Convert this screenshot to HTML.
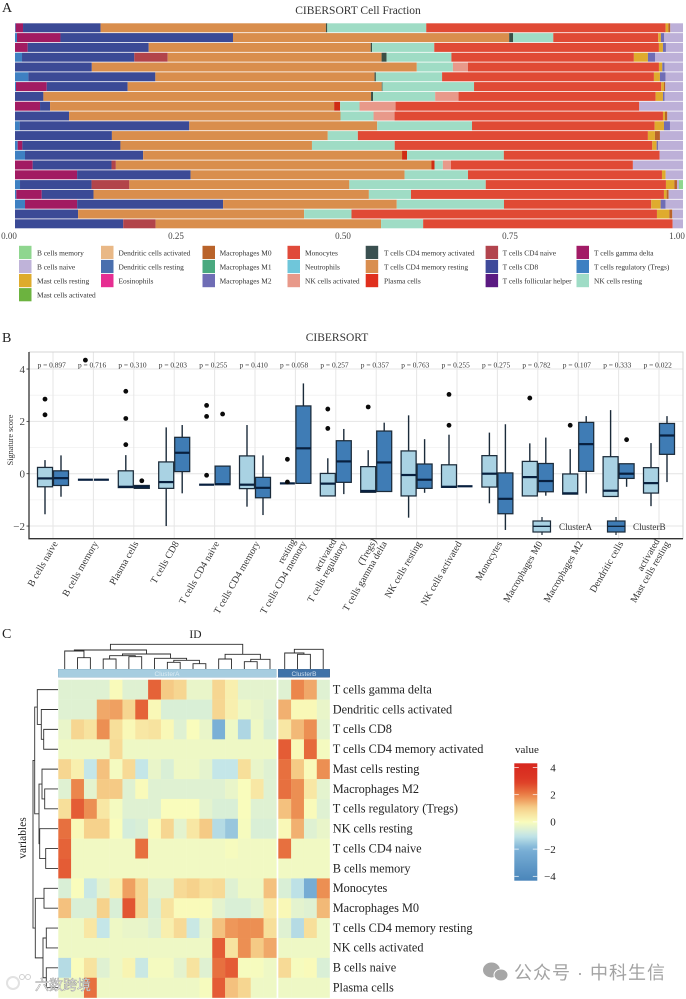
<!DOCTYPE html>
<html lang="en">
<head>
<meta charset="utf-8">
<title>CIBERSORT composite figure</title>
<style>
html,body{margin:0;padding:0;background:#fff;}
svg{display:block;font-family:"Liberation Serif","Noto Serif CJK SC",serif;}
</style>
</head>
<body>
<svg id="fig" xmlns="http://www.w3.org/2000/svg" width="686" height="999" viewBox="0 0 686 999">
  <defs>
    <linearGradient id="cbar" x1="0" y1="0" x2="0" y2="1"></linearGradient>
  </defs>
  <rect x="0" y="0" width="686" height="999" fill="#fff"/>
  <text x="2" y="12" font-size="14" fill="#222">A</text>
  <text x="358" y="14" font-size="11.5" text-anchor="middle" fill="#333">CIBERSORT Cell Fraction</text>
  <g id="stack"></g>
  <g id="stackTicks"></g>
  <g id="legendA"></g>

  <text x="2" y="342" font-size="14" fill="#222">B</text>
  <text x="337" y="341" font-size="11.5" text-anchor="middle" fill="#333">CIBERSORT</text>
  <g id="box"></g>
  <text transform="translate(13,440) rotate(-90)" font-size="8.2" text-anchor="middle" fill="#333">Signature score</text>
  <g>
    <line x1="542" x2="542" y1="517" y2="535" stroke="#1b2b3a" stroke-width="1.2"/>
    <rect x="533" y="521" width="17.5" height="11" fill="#a9d2e3" stroke="#1b2b3a" stroke-width="1.2"/>
    <line x1="533" x2="550.5" y1="526.3" y2="526.3" stroke="#0e2238" stroke-width="1.4"/>
    <text x="559" y="530" font-size="9.2" fill="#333">ClusterA</text>
    <line x1="616" x2="616" y1="517" y2="535" stroke="#1b2b3a" stroke-width="1.2"/>
    <rect x="607.5" y="521" width="17.5" height="11" fill="#3f7cb5" stroke="#1b2b3a" stroke-width="1.2"/>
    <line x1="607.5" x2="625" y1="526.3" y2="526.3" stroke="#0e2238" stroke-width="1.4"/>
    <text x="633" y="530" font-size="9.2" fill="#333">ClusterB</text>
  </g>

  <text x="2" y="638" font-size="14" fill="#222">C</text>
  <text x="195.5" y="638" font-size="11.5" text-anchor="middle" fill="#222">ID</text>
  <text transform="translate(26,838) rotate(-90)" font-size="11.5" text-anchor="middle" fill="#222">variables</text>
  <g id="dendroTop" fill="none" stroke="#2a2a2a" stroke-width="0.9"></g>
  <g id="dendroLeft" fill="none" stroke="#333" stroke-width="0.9"></g>
  <rect x="58.3" y="669.3" width="218" height="8" fill="#a6cde0" stroke="#7fa9c0" stroke-width="0.4"/>
  <text x="167" y="676" font-size="6.5" text-anchor="middle" fill="#dcecf4" font-family="Liberation Sans, sans-serif">ClusterA</text>
  <rect x="278.3" y="669.3" width="51.4" height="8" fill="#3f72a8" stroke="#2d5580" stroke-width="0.4"/>
  <text x="304" y="676" font-size="6.5" text-anchor="middle" fill="#cfe0f0" font-family="Liberation Sans, sans-serif">ClusterB</text>
  <g id="heat"></g>
  <g id="heatLabels"></g>

  <text x="515" y="753" font-size="11" fill="#222">value</text>
  <rect x="514.3" y="763.3" width="23" height="117.4" fill="url(#cbar)"/>
  <g id="cbarTicks"></g>

  <g>
    <circle cx="13" cy="983" r="6" fill="none" stroke="#e2e2e2" stroke-width="2"/>
    <circle cx="22" cy="977" r="2.5" fill="none" stroke="#d0d0d0" stroke-width="1"/>
    <circle cx="28" cy="977" r="2.5" fill="none" stroke="#d0d0d0" stroke-width="1"/>
    <text x="35" y="990" font-size="14" fill="#fff" stroke="#9a9a9a" stroke-width="0.5" font-family="Liberation Sans, Noto Sans CJK SC, sans-serif">六数跨境</text>
  </g>
  <g>
    <ellipse cx="491.5" cy="970" rx="8.5" ry="7.5" fill="#a6a6a6"/>
    <ellipse cx="501" cy="975" rx="7" ry="6" fill="#a6a6a6" stroke="#fff" stroke-width="1"/>
    <text x="514" y="979" font-size="18" letter-spacing="1" fill="#a3a3a3" font-family="Liberation Sans, Noto Sans CJK SC, sans-serif" xml:space="preserve">公众号 · 中科生信</text>
  </g>
</svg>
<script>
/* ---------- Panel A data: fractions (percent) per sample row ---------- */
const tregs     = [.1,.3,0,1.05,0,2,.15,0,0,0,.7,0,.4,1.5,0,0,.75,.2,1.5,0,0];
const gammaDelta= [1.1,6.5,1.9,0,0,0,4.6,0,3.75,0,0,0,.7,0,2.65,9.3,0,3.8,7.8,0,0];
const cd8       = [11.6,25.8,18.1,16.8,11.5,19,12.1,4.25,1.5,8.1,25.4,14.5,14.7,17.7,11.8,17,10.7,7.75,21.85,9.45,16.2];
const cd4Naive  = [0,0,0,5,0,0,0,0,0,0,0,0,0,0,.65,0,5.65,0,0,0,4.85];
const cd4Resting= [33.7,41.3,33.2,32,48.65,32.8,38,49.05,42.55,40.65,28.15,32.3,28.7,38.8,47.25,32.05,32.9,41.2,26,33.85,33.75];
const plasma    = [0,0,0,0,0,0,0,0,.9,0,0,0,0,.75,.45,0,0,0,0,0,0];
const cd4Active = [.2,.6,.2,.75,0,.2,.1,.3,0,0,0,0,0,0,0,0,0,0,0,0,0];
const nkResting = [14.8,6,9.3,9.7,5.4,9.9,13.7,9.3,2.9,4.95,14.2,4.5,12.4,14.5,1.25,9.5,20.4,6.3,16.05,7.1,6.3];
const nkActive  = [0,0,0,0,2.25,0,0,3.5,5.4,3.15,0,0,0,0,1.2,0,0,0,0,0,0];
const monocytes = [35.8,15.7,33.6,27.3,28.6,31.7,28,29.5,36.5,40.2,27.35,43.4,38.6,23.35,27.25,29.05,26.95,37.85,22.05,45.75,37.35];
const mastRest  = [.4,.4,.6,2.1,.5,.9,.4,1.1,0,.3,1.4,1.05,.65,0,0,.55,1.25,.4,1.4,1.85,0];
const macroM0   = [.3,0,0,0,0,0,.2,0,0,.35,0,.75,0,0,0,0,.4,.3,0,.45,0];
const macroM2   = [0,.5,.45,1.1,.35,.85,0,.25,0,0,.9,0,.2,0,0,0,0,0,.75,0,0];
const bNaive    = [1.9,2.8,2.55,4.15,2.75,2.6,2.65,2.75,6.55,2.35,1.95,3.45,3.75,3.5,7.5,2.6,.3,2.15,2.6,1.6,1.55];
const bMemory   = [0,0,0,0,0,0,0,0,0,0,0,0,0,0,0,0,.6,0,0,0,0];
const stackTickValues = [0,.25,.5,.75,1];
const stackTickLabels = ["0.00","0.25","0.50","0.75","1.00"];
const legendNames = ["B cells memory","B cells naive","Mast cells resting","Mast cells activated",
  "Dendritic cells activated","Dendritic cells resting","Eosinophils",
  "Macrophages M0","Macrophages M1","Macrophages M2",
  "Monocytes","Neutrophils","NK cells activated",
  "T cells CD4 memory activated","T cells CD4 memory resting","Plasma cells",
  "T cells CD4 naive","T cells CD8","T cells follicular helper",
  "T cells gamma delta","T cells regulatory (Tregs)","NK cells resting"];

/* ---------- Panel B data ---------- */
const boxCategories = [["B cells naive"],["B cells memory"],["Plasma cells"],["T cells CD8"],["T cells CD4 naive"],["T cells CD4 memory"],["resting","T cells CD4 memory"],["activated","T cells regulatory"],["(Tregs)","T cells gamma delta"],["NK cells resting"],["NK cells activated"],["Monocytes"],["Macrophages M0"],["Macrophages M2"],["Dendritic cells"],["activated","Mast cells resting"]];
const pValues = ["0.897","0.716","0.310","0.203","0.255","0.410","0.058","0.257","0.357","0.763","0.255","0.275","0.782","0.107","0.333","0.022"];
const yTicks = [4,2,0,-2];
const yTickLabels = ["4","2","0","\u22122"];
const aLow  = [-1.55,-.23,-.53,-2,-.42,-1.26,-.37,-.85,-.71,-1.68,-.52,-1.13,-.85,-.78,-.87,-1.24];
const aQ1   = [-.5,-.23,-.53,-.56,-.42,-.57,-.37,-.85,-.71,-.85,-.52,-.51,-.85,-.78,-.87,-.74];
const aMed  = [-.18,-.23,-.5,-.32,-.42,-.42,-.37,-.38,-.66,-.05,-.5,0,-.13,-.75,-.65,-.36];
const aQ3   = [.24,-.23,.11,.45,-.42,.68,-.37,.01,.27,.87,.34,.69,.47,-.01,.65,.23];
const aHigh = [.52,-.23,.71,1.77,-.42,1.86,-.37,.59,.9,2.23,1.49,1.57,1.16,.94,2.43,1.17];
const bLow  = [-.88,-.23,-.56,-.75,-.42,-1.58,-.37,-.78,-.68,-.73,-.48,-2.15,-.84,-.75,-.5,-.32];
const bQ1   = [-.45,-.23,-.56,.08,-.42,-.92,-.37,-.33,-.68,-.56,-.48,-1.53,-.69,.09,-.18,.74];
const bMed  = [-.17,-.23,-.5,.8,-.4,-.54,.97,.47,.43,-.23,-.48,-.96,-.28,1.13,0,1.46];
const bQ3   = [.11,-.23,-.45,1.39,.29,-.14,2.59,1.26,1.63,.37,-.48,.03,.39,1.96,.38,1.92];
const bHigh = [.7,-.23,-.45,1.86,.29,.7,3.45,1.71,1.95,1.32,-.48,1.89,1.38,2.2,.38,2.2];
const aOutliers = [[2.85,2.25],[4.34],[3.15,2.11,1.11],[],[2.61,2.19,-.06],[],[.55,-.32],[2.47,1.73],[2.55],[],[3.03,1.85],[],[2.89],[1.85],[],[]];
const bOutliers = [[],[],[-.27],[],[2.28],[],[],[],[],[],[],[],[],[],[1.3],[]];

/* ---------- Panel C data ---------- */
const heatRows = ["T cells gamma delta","Dendritic cells activated","T cells CD8","T cells CD4 memory activated","Mast cells resting","Macrophages M2","T cells regulatory (Tregs)","NK cells resting","T cells CD4 naive","B cells memory","Monocytes","Macrophages M0","T cells CD4 memory resting","NK cells activated","B cells naive","Plasma cells"];
const heatValues = [
 [-.5,-.5,-.5,-.5,.05,-.5,-.5,2.4,1.1,.9,-.3,-.3,.9,.3,-.4,-.4,-.4, -.5,1.9,1.5,-.5],
 [-.5,-.5,-.5,1.5,1.6,.9,2.4,.1,-.6,-.6,-.6,-.6,.9,.3,-.2,-.3,-.5, 1.4,.1,.1,-.3],
 [-.3,.9,.6,1.8,.7,.1,.5,.6,.1,-.5,0,-.3,-2,-.2,-1.3,-.2,-.6, .5,1.3,1.8,-.4],
 [-.2,-.2,-.2,-.2,.8,-.2,-.2,-.2,-.2,-.2,-.2,-.2,-.2,-.2,-.2,-.2,-.2, 2.5,.1,2.3,-.1],
 [.9,.3,-1,1.2,-.1,.8,-1,-.3,-.6,-.2,-.2,-.4,-1,-1,.7,-.3,-.5, 2.2,1.1,.05,1.8],
 [-.5,1.9,-.4,1.1,1.1,-.5,.05,-.5,-.5,-.5,-.5,-.5,-.5,-.3,0,.5,-.5, 2.2,1.8,.5,-.4],
 [.7,2.5,1.8,.5,-.1,-.5,-.5,-.5,0,0,0,-.4,-.6,-.6,0,-.5,-.5, 1.2,1.8,.05,-.5],
 [2.2,.1,1,1,0,-.7,-.6,.05,.9,-.4,.5,1.1,-1.2,-1.6,-.05,-.6,-.6, .1,1.4,-.5,-.3],
 [2.4,-.15,-.15,-.15,-.15,-.15,2.2,-.15,-.15,-.15,-.15,-.15,-.15,-.05,-.15,-.15,-.15, 2.2,-.15,-.15,-.15],
 [2.5,-.15,-.15,-.15,-.15,-.15,-.15,-.15,-.15,-.15,-.15,-.15,-.15,-.15,-.15,-.15,-.15, -.15,-.15,-.15,-.15],
 [-.6,0,-.9,-.4,.3,1.6,.9,-.4,-.4,.8,1,.7,.8,-.5,-.2,-.2,1.2, -.6,-1.1,-2.2,1.8],
 [1.2,-.6,-.6,1,-.6,2.6,.9,-.6,.6,.05,.05,.05,-.4,-.6,-.6,-.4,.4, .1,-.4,-.5,1.3],
 [-.2,-.2,.5,-1,-.2,-.3,-.3,-.5,.3,.8,-.9,-.3,1.2,1.7,1.8,1.8,.7, -.5,-1.2,.7,-.2],
 [-.2,-.2,-.2,-.2,-.2,-.2,-.2,-.2,-.2,-.2,-.2,-.2,2.5,.6,1.8,1.1,1.5, -.2,-.2,-.2,-.2],
 [-1.2,0,.6,-.5,-.2,.2,-.9,-.1,-.1,-.4,.6,-.5,2.2,2.5,-.05,-.05,-.2, .8,-.05,.05,-.6],
 [-.2,-.2,2.2,-.2,-.2,-.2,-.2,-.2,-.2,-.2,-.2,-.05,2.5,1.2,.9,-.2,-.2, -.2,-.2,-.2,-.2]
];
const colorbarTicks = [4,2,0,-2,-4];
const colorbarLabels = ["4","2","0","\u22122","\u22124"];
/* dendrogram merges: [left, right, height]; integers are leaf indices */
const columnTreeA = [[[0,[1,2,11.3],18],[[[3,4,10],[5,6,12.3],13.3],[7,[[8,9,6.7],[10,11,5.3],8.7],10.7],15],19],[[12,13,10],[[14,15,7.3],16,9.7],14.7],24.7];
const columnTreeB = [[0,[1,2,14.7],16],3,19.7];
const rowTree = [[[0,[1,[2,3,14.3],16.7],20.7],[[4,[5,6,13.3],16],[7,[8,9,12.3],18.3],19],23.3],[[10,11,14],[[12,13,11.7],[14,15,11.7],15],22.7],25];

/* ---------- helpers ---------- */
const NS = "http://www.w3.org/2000/svg";
function mk(parent, tag, attrs, txt){
  const el = document.createElementNS(NS, tag);
  for (const k in attrs) el.setAttribute(k, attrs[k]);
  if (txt !== undefined) el.textContent = txt;
  parent.appendChild(el);
  return el;
}
function slug(s){ return s.toLowerCase().replace(/[^a-z0-9]+/g,'-').replace(/^-|-$/g,''); }

/* ---------- Panel A ---------- */
const stackSeries = [
 ["tregs",tregs,"#3e80c2"],["gamma-delta",gammaDelta,"#a21b62"],["cd8",cd8,"#3b4a96"],["cd4-naive",cd4Naive,"#b2444a"],
 ["cd4-resting",cd4Resting,"#d98e4d"],["plasma",plasma,"#cf2c14"],["cd4-activated",cd4Active,"#3a4f45"],["nk-resting",nkResting,"#9fdcc5"],
 ["nk-activated",nkActive,"#e8998a"],["monocytes",monocytes,"#e04a35"],["mast-resting",mastRest,"#dfab2e"],["macrophage-m0",macroM0,"#b9632a"],
 ["macrophage-m2",macroM2,"#6f6db5"],["b-naive",bNaive,"#bdb0d8"],["b-memory",bMemory,"#8fd68f"]
];
const legendColors = ["#8fd68f","#bfb3d9","#deab2c","#6cb33f","#e9b886","#4a6fae","#e62e92","#b9632a","#4aa97f","#6f6db5","#e04a3a","#6fc6da","#e8998a","#3a5050","#d98e4f","#e0301e","#b2444e","#3f4a9a","#5b1a82","#a21b66","#3e80c2","#9fdcc6"];
const stackX = v => 15 + 668 * v;
const stackY = i => 23.3 + 9.8 * i;
const stackG = document.getElementById('stack');
for (let i = 0; i < tregs.length; i++){
  let total = 0;
  stackSeries.forEach(s => { total += s[1][i]; });
  let cum = 0;
  stackSeries.forEach(s => {
    const v = s[1][i];
    if (v > 0){
      const x0 = stackX(cum / total), x1 = stackX((cum + v) / total);
      const seg = mk(stackG, 'rect', {x:x0, y:stackY(i), width:x1 - x0, height:9, fill:s[2]});
      
      
    }
    cum += v;
  });
}
const stackTicksG = document.getElementById('stackTicks');
stackTickValues.forEach((v, i) => {
  const t = mk(stackTicksG, 'text', {x:stackX(v) - 6, y:239, 'font-size':9, 'text-anchor':'middle', fill:'#444'}, stackTickLabels[i]);
  
  
});
const legendColX = [19,101,202.5,287.5,365.7,485.6,576.5];
const legendTextX = [37,118.5,219.6,305,384,502.6,594];
const legendColCount = [4,3,3,3,3,3,3];
const legendG = document.getElementById('legendA');
let legendIdx = 0;
legendColCount.forEach((n, c) => {
  for (let r = 0; r < n; r++){
    const nm = legendNames[legendIdx];
    const sw = mk(legendG, 'rect', {x:legendColX[c], y:245.8 + 14.1 * r, width:12.5, height:13.2, fill:legendColors[legendIdx]});
    
    
    const tx = mk(legendG, 'text', {x:legendTextX[c], y:255.3 + 14.1 * r, 'font-size':7.4, fill:'#333'}, nm);
    
    
    legendIdx++;
  }
});

/* ---------- Panel B ---------- */
const boxX = i => 53 + 40.4 * i;
const boxY = v => 473.7 - 26.17 * v;
const boxG = document.getElementById('box');
[-1,1,3].forEach(v => {
  const l = mk(boxG, 'line', {x1:29, x2:683, y1:boxY(v), y2:boxY(v), stroke:'#f1f1f1', 'stroke-width':.8});
  
  
});
yTicks.forEach(v => {
  const l = mk(boxG, 'line', {x1:29, x2:683, y1:boxY(v), y2:boxY(v), stroke:'#e4e4e4', 'stroke-width':1});
  
  
});
boxCategories.forEach((c, i) => {
  const l = mk(boxG, 'line', {x1:boxX(i), x2:boxX(i), y1:352, y2:538.7, stroke:'#e6e6e6', 'stroke-width':1});
  
  
});
const frame = mk(boxG, 'path', {d:'M29 352H683V538.7', fill:'none', stroke:'#d4d4d4', 'stroke-width':1});


const axisL = mk(boxG, 'path', {d:'M29 352V538.7H683', fill:'none', stroke:'#333', 'stroke-width':1.3});


yTicks.forEach((v, i) => {
  const tk = mk(boxG, 'line', {x1:26.5, x2:29, y1:boxY(v), y2:boxY(v), stroke:'#333', 'stroke-width':.8});
  
  
  const t = mk(boxG, 'text', {x:25, y:boxY(v) + 3.8, 'font-size':11, 'text-anchor':'end', fill:'#444'}, yTickLabels[i]);
  
  
});
function drawBox(cx, low, q1, med, q3, high, outs, fill, nm){
  const w = mk(boxG, 'line', {x1:cx, x2:cx, y1:boxY(low), y2:boxY(high), stroke:'#1b2b3a', 'stroke-width':1.4});
  
  
  const b = mk(boxG, 'rect', {x:cx - 7.5, y:boxY(q3), width:15, height:Math.max(boxY(q1) - boxY(q3), 0), fill:fill, stroke:'#1b2b3a', 'stroke-width':1.25});
  
  
  const m = mk(boxG, 'line', {x1:cx - 7.5, x2:cx + 7.5, y1:boxY(med), y2:boxY(med), stroke:'#08203f', 'stroke-width':2.2});
  
  
  outs.forEach(o => {
    const p = mk(boxG, 'circle', {cx:cx, cy:boxY(o), r:2.4, fill:'#0a0a0a'});
    
    
  });
}
boxCategories.forEach((lines, i) => {
  const cx = boxX(i);
  drawBox(cx - 8, aLow[i], aQ1[i], aMed[i], aQ3[i], aHigh[i], aOutliers[i], '#a9d2e3', 'cluster-a');
  drawBox(cx + 8, bLow[i], bQ1[i], bMed[i], bQ3[i], bHigh[i], bOutliers[i], '#3f7cb5', 'cluster-b');
  const p = mk(boxG, 'text', {x:cx - 1.3, y:367.5, 'font-size':7.4, 'text-anchor':'middle', fill:'#333'}, 'p = ' + pValues[i]);
  
  
  const two = lines.length === 2;
  const g = mk(boxG, 'text', {transform:'translate(' + (cx + (two ? 11 : 5)) + ',543.5) rotate(-60)', 'font-size':9.8, 'text-anchor':'end', fill:'#333'});
  
  
  lines.forEach((ln, k) => {
    const sp = mk(g, 'tspan', {x: (two && k === 0) ? -3 : 0, y: (two && k === 0) ? -10 : 0}, ln);
    
    
  });
});

/* ---------- Panel C ---------- */
const scaleStops = [[-4.3,[74,133,186]],[-2,[122,176,214]],[-1,[196,230,232]],[0,[249,252,188]],[1,[246,210,140]],[2,[234,126,69]],[3,[221,58,37]],[4.3,[215,38,30]]];
function heatColor(v){
  if (v <= scaleStops[0][0]) return 'rgb(' + scaleStops[0][1].join(',') + ')';
  for (let i = 1; i < scaleStops.length; i++){
    const a = scaleStops[i - 1], b = scaleStops[i];
    if (v <= b[0]){
      const t = (v - a[0]) / (b[0] - a[0]);
      return 'rgb(' + a[1].map((c, k) => Math.round(c + (b[1][k] - c) * t)).join(',') + ')';
    }
  }
  return 'rgb(' + scaleStops[scaleStops.length - 1][1].join(',') + ')';
}
const CW = 12.83, RH = 19.87, NA = 17;
const heatX = j => j < NA ? 58.3 + CW * j : 278.3 + CW * (j - NA);
const heatY = i => 679.7 + RH * i;
const heatG = document.getElementById('heat');
heatValues.forEach((row, i) => {
  row.forEach((v, j) => {
    const c = mk(heatG, 'rect', {x:heatX(j), y:heatY(i), width:CW + .2, height:RH + .2, fill:heatColor(v)});
    
    
  });
});
const labelsG = document.getElementById('heatLabels');
heatRows.forEach((nm, i) => {
  const t = mk(labelsG, 'text', {x:332.7, y:heatY(i) + RH / 2 + 3.8, 'font-size':12.3, fill:'#222'}, nm);
  
  
});
function drawTree(node, group, pos, toPath){
  if (typeof node === 'number') return {p:pos(node), h:0};
  const a = drawTree(node[0], group, pos, toPath);
  const b = drawTree(node[1], group, pos, toPath);
  const link = mk(group, 'path', {d:toPath(a, b, node[2])});
  
  
  return {p:(a.p + b.p) / 2, h:node[2]};
}
const topBase = 669, leftBase = 58;
const topPath = (a, b, h) => 'M' + a.p + ' ' + (topBase - a.h) + 'V' + (topBase - h) + 'H' + b.p + 'V' + (topBase - b.h);
const leftPath = (a, b, h) => 'M' + (leftBase - a.h) + ' ' + a.p + 'H' + (leftBase - h) + 'V' + b.p + 'H' + (leftBase - b.h);
const dTop = document.getElementById('dendroTop');
drawTree(columnTreeA, dTop, j => heatX(j) + CW / 2, topPath);
drawTree(columnTreeB, dTop, j => heatX(j + NA) + CW / 2, topPath);
drawTree(rowTree, document.getElementById('dendroLeft'), i => heatY(i) + RH / 2, leftPath);

const cbarY = v => 821.9 - 13.6 * v;
const grad = document.getElementById('cbar');
for (let k = 0; k <= 24; k++){
  const v = 4.3 - 8.6 * k / 24;
  mk(grad, 'stop', {offset:(k / 24), 'stop-color':heatColor(v)});
}
const cbarG = document.getElementById('cbarTicks');
colorbarTicks.forEach((v, i) => {
  const l1 = mk(cbarG, 'line', {x1:514.3, x2:518.8, y1:cbarY(v), y2:cbarY(v), stroke:'#fff', 'stroke-width':.7});
  
  
  const l2 = mk(cbarG, 'line', {x1:532.8, x2:537.3, y1:cbarY(v), y2:cbarY(v), stroke:'#fff', 'stroke-width':.7});
  
  
  const t = mk(cbarG, 'text', {x:555.8, y:cbarY(v) + 3.8, 'font-size':11, 'text-anchor':'end', fill:'#222'}, colorbarLabels[i]);
  
  
});
</script>
</body>
</html>
